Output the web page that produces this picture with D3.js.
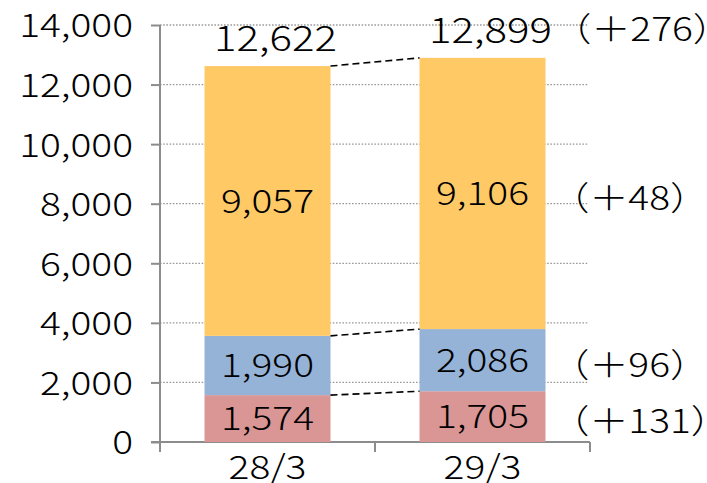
<!DOCTYPE html>
<html>
<head>
<meta charset="utf-8">
<script src="https://cdn.jsdelivr.net/npm/d3@7"></script>
<style>
  html, body { margin: 0; padding: 0; background: #ffffff; }
  svg { display: block; font-family: "Noto Sans CJK JP", "Noto Sans", sans-serif; font-weight: 300; }
</style>
</head>
<body>
<svg id="chart" width="707" height="483"></svg>
<script>
// Fiscal year-end categories
const categories = ["28/3", "29/3"];

// Stacked series, bottom to top
const seriesKeys = ["lower", "middle", "upper"];
const lowerValues = [1574, 1705];
const middleValues = [1990, 2086];
const upperValues = [9057, 9106];

// Totals printed above each bar
const totalValues = [12622, 12899];

// Year-on-year change labels beside the second bar
const lowerChange = "（＋131）";
const middleChange = "（＋96）";
const upperChange = "（＋48）";
const totalChange = "（＋276）";

// Value axis ticks
const yTickValues = [0, 2000, 4000, 6000, 8000, 10000, 12000, 14000];

const colors = { lower: "#d99694", middle: "#95b3d7", upper: "#ffca66" };
const axisColor = "#8c8c8c";
const fontSize = 33;
const stretch = 1.18;

const rows = categories.map((c, i) => ({
  category: c,
  lower: lowerValues[i],
  middle: middleValues[i],
  upper: upperValues[i]
}));
const changes = { lower: lowerChange, middle: middleChange, upper: upperChange };

const svg = d3.select("#chart");

// Places text at (fx, fy) with a horizontal stretch for the wide lettering
function place(sel, fx, fy, sx) {
  sel.attr("x", 0).attr("y", 0)
    .attr("transform", (d, i) => `translate(${fx(d, i)},${fy(d, i)}) scale(${sx},1)`);
}

const x = d3.scaleBand()
  .domain(categories)
  .range([160, 590])
  .paddingInner(0.414)
  .paddingOuter(0.207);

const y = d3.scaleLinear()
  .domain([0, 14000])
  .range([442, 25]);

const stacked = d3.stack().keys(seriesKeys)(rows);
const fmt = d3.format(",");

// Dotted gridlines
svg.append("g")
  .selectAll("line")
  .data(yTickValues.filter(v => v > 0))
  .join("line")
  .attr("x1", 160)
  .attr("x2", 588)
  .attr("y1", d => y(d))
  .attr("y2", d => y(d))
  .attr("stroke", "#9a9a9a")
  .attr("stroke-width", 1.3)
  .attr("stroke-dasharray", "1.6,1.6");

// Value axis
const yAxis = svg.append("g")
  .attr("transform", "translate(160,0)")
  .call(d3.axisLeft(y).tickValues(yTickValues).tickFormat(fmt).tickSize(9));
yAxis.select(".domain").remove();
yAxis.selectAll(".tick line").attr("stroke", axisColor).attr("stroke-width", 2);
yAxis.selectAll(".tick text")
  .attr("fill", "#000")
  .attr("font-family", "\"Noto Sans CJK JP\", \"Noto Sans\", sans-serif")
  .attr("font-weight", 300)
  .attr("font-size", fontSize)
  .attr("text-anchor", "end")
  .attr("dy", "0.36em")
  .call(place, () => -27, () => 0, stretch);

svg.append("line")
  .attr("x1", 160).attr("x2", 160)
  .attr("y1", y(14000)).attr("y2", y(0) + 10)
  .attr("stroke", axisColor).attr("stroke-width", 2);

// Category axis with ticks on band boundaries
svg.append("line")
  .attr("x1", 151).attr("x2", x.range()[1])
  .attr("y1", y(0)).attr("y2", y(0))
  .attr("stroke", axisColor).attr("stroke-width", 2);

svg.append("g")
  .selectAll("line")
  .data(d3.range(1, categories.length + 1))
  .join("line")
  .attr("x1", i => x.range()[0] + i * x.step())
  .attr("x2", i => x.range()[0] + i * x.step())
  .attr("y1", y(0))
  .attr("y2", y(0) + 10)
  .attr("stroke", axisColor)
  .attr("stroke-width", 2);

svg.append("g")
  .selectAll("text")
  .data(categories)
  .join("text")
  .attr("text-anchor", "middle")
  .attr("font-size", fontSize)
  .text(d => d)
  .call(place, d => x(d) + x.bandwidth() / 2, () => 479, stretch);

// Stacked bars
svg.append("g")
  .selectAll("g")
  .data(stacked)
  .join("g")
  .attr("fill", s => colors[s.key])
  .selectAll("rect")
  .data(s => s)
  .join("rect")
  .attr("x", d => x(d.data.category))
  .attr("y", d => y(d[1]))
  .attr("width", x.bandwidth())
  .attr("height", d => y(d[0]) - y(d[1]));

// Dashed connectors between the tops of matching segments
svg.append("g")
  .selectAll("line")
  .data(stacked)
  .join("line")
  .attr("x1", () => x(categories[0]) + x.bandwidth())
  .attr("y1", s => y(s[0][1]))
  .attr("x2", () => x(categories[1]))
  .attr("y2", s => y(s[1][1]))
  .attr("stroke", "#000")
  .attr("stroke-width", 1.6)
  .attr("stroke-dasharray", "7,4");

// Segment value labels
svg.append("g")
  .selectAll("g")
  .data(stacked)
  .join("g")
  .selectAll("text")
  .data(s => s.map(d => ({ d, key: s.key })))
  .join("text")
  .attr("dy", "0.36em")
  .attr("text-anchor", "middle")
  .attr("font-size", fontSize)
  .text(o => fmt(o.d.data[o.key]))
  .call(place,
    o => x(o.d.data.category) + x.bandwidth() / 2,
    o => y((o.d[0] + o.d[1]) / 2),
    stretch);

// Totals above the bars
svg.append("g")
  .selectAll("text")
  .data(categories)
  .join("text")
  .attr("text-anchor", "middle")
  .attr("font-size", 35)
  .text((c, i) => fmt(totalValues[i]))
  .call(place,
    (c) => x(c) + x.bandwidth() / 2 + 8,
    (c, i) => y(totalValues[i]) - 15,
    1.2);

// Change labels beside the latest bar
const last = categories.length - 1;
const changeX = x(categories[last]) + x.bandwidth() + 5;
svg.append("g")
  .selectAll("text")
  .data(stacked)
  .join("text")
  .attr("dy", "0.36em")
  .attr("font-size", fontSize)
  .text(s => changes[s.key])
  .call(place,
    () => changeX,
    s => y((s[last][0] + s[last][1]) / 2) + 5,
    stretch);

svg.append("text")
  .attr("font-size", fontSize)
  .text(totalChange)
  .call(place, () => changeX + 2, () => y(totalValues[last]) - 17, stretch);
</script>
</body>
</html>
